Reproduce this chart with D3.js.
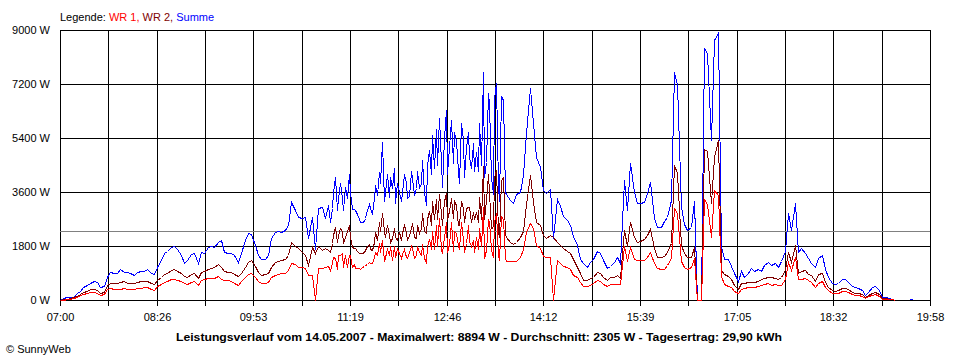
<!DOCTYPE html>
<html><head><meta charset="utf-8">
<script src="https://cdn.jsdelivr.net/npm/d3@7"></script>
<style>
html,body{margin:0;padding:0;background:#fff;}
svg{display:block;}
text{font-family:"Liberation Sans",Arial,sans-serif;}
</style></head><body>
<svg id="chart" width="960" height="360"></svg>
<script>
// ---- data ----
const stepMinutes = 3;            // one sample every 3 minutes, starting 07:00
const totalMinutes = 778;         // 07:00 .. 19:58
const tickLabels = ["07:00","08:26","09:53","11:19","12:46","14:12","15:39","17:05","18:32","19:58"];
const yTicks = [0,1800,3600,5400,7200,9000];
const average = 2305;
const titleText = "Leistungsverlauf vom 14.05.2007 - Maximalwert: 8894 W - Durchschnitt: 2305 W - Tagesertrag: 29,90 kWh";
const legendLabels = ["WR 1","WR 2","Summe"];
const seriesColors = ["#ff0000","#800000","#0000ff"];

const summe = [
0,55,90,90,90,220,310,420,500,580,
645,600,420,470,780,945,910,890,1020,945,
930,890,820,935,955,980,1045,890,870,1110,
1330,1555,1645,1755,1800,1690,1500,1245,1330,1530,
1555,1220,1610,1580,1780,1800,1780,1945,2000,1610,
1580,1555,1500,1280,1555,2000,2220,2200,1835,1500,
1365,1365,1500,2055,2280,2310,2280,2330,2500,3280,
3000,2780,2720,2755,2055,2780,1700,3055,3110,2720,
3165,3055,4110,3390,3390,3780,4200,3030,3000,2690,
2610,2720,3200,2865,3830,4280,5280,3610,3440,3720,
3220,3610,3610,3945,3465,4055,3720,3720,4665,3165,
5000,5500,5690,6055,3780,6330,5110,4555,5330,3890,
5330,5110,4780,5220,4945,5900,7600,4600,6550,3550,
7250,3300,6650,3550,3330,3220,3530,3610,4165,5555,
7055,5890,4780,4445,3665,3555,3690,2060,3355,3135,
2800,2665,2500,2135,1835,1355,1220,1110,1280,1355,
1645,1580,1335,1055,1135,1280,1445,1220,4000,3000,
4555,3610,3220,3245,3280,3555,3945,2720,2445,2420,
2645,2780,3330,7610,7200,3100,2530,2330,2445,3300,
0,0,8400,8250,5330,8650,8894,1800,1355,1355,
1135,890,645,980,780,910,1055,955,1020,955,
1165,1265,1180,1245,1110,1300,1650,2890,2330,3220,
1610,1720,1580,1400,1220,1090,1390,1500,1020,755,
555,535,580,690,710,610,480,420,390,335,
165,280,420,465,335,110,90,80,45,0,
null,null,null,35,35];

const wr2 = [
0,20,45,55,90,145,200,265,310,355,
380,335,245,280,500,580,565,580,610,645,
580,555,555,600,620,645,645,555,535,665,
780,855,910,1000,1045,980,890,800,780,870,
890,720,945,980,1045,1055,1090,1200,1090,980,
945,920,865,800,910,1090,1280,1335,1135,945,
845,865,910,1090,1265,1310,1335,1380,1500,1950,
1800,1720,1610,1500,1165,1780,1555,1800,1665,1720,
1665,1910,2420,2165,2310,2110,2500,1780,1720,1580,
1580,1665,1865,1665,2280,2610,2890,2110,2165,2055,
2110,2280,2220,2280,2165,2555,2055,2245,2890,2220,
2980,3310,3355,3530,2500,3580,2980,2720,3165,2500,
3055,3055,3110,2945,2945,3445,4470,3330,3555,2450,
4330,2110,4110,2100,1945,1865,1945,2090,2310,3200,
4165,3280,2610,2500,2180,2065,2165,2110,1945,1845,
1720,1620,1555,1355,1110,890,665,665,720,780,
945,910,780,665,755,780,835,720,2330,1800,
2610,2110,1945,1980,2045,2165,2365,1720,1445,1420,
1465,1610,1890,4500,4250,1850,1555,1420,1420,1780,
0,0,5020,4980,3220,4780,5330,1000,855,800,
690,500,355,555,580,610,610,590,635,710,
720,765,755,720,690,780,1000,1610,1280,1835,
910,980,1000,855,820,650,865,890,600,440,
320,310,335,400,410,355,280,245,230,195,
95,160,245,270,195,65,55,45,25,0,
null,null,null,null,null];

const wr1 = [
0,10,20,35,55,110,155,200,220,265,
280,245,165,200,355,390,355,380,380,410,
380,380,380,400,410,420,420,355,335,465,
535,600,645,690,710,665,620,555,535,610,
620,500,665,690,735,745,745,800,710,665,
655,635,580,510,645,780,865,890,780,645,
555,580,610,780,835,865,890,910,1000,1250,
1200,1110,1110,1055,835,835,0,1055,1065,1110,
1135,1220,1390,1500,1555,1500,1500,1110,1055,1055,
1090,1165,1280,1220,1610,1890,2000,1445,1500,1335,
1445,1555,1535,1445,1610,1720,1500,1610,1865,1280,
2020,2310,2500,2720,1555,2610,1865,1645,2220,1720,
2000,1890,1980,2000,2110,2390,3100,1665,2600,1450,
2900,1330,2700,1300,1310,1310,1290,1420,1690,2280,
2580,2400,1835,1720,1480,1445,1445,0,1335,1245,
1145,1100,1045,845,755,600,480,465,510,580,
665,645,535,465,520,545,535,535,1800,1300,
1780,1355,1335,1320,1335,1420,1600,1220,1065,1020,
1045,1155,1390,3050,2900,1300,1090,1035,1090,1400,
0,0,3355,3200,2110,3665,3500,800,535,480,
420,310,245,380,400,420,420,445,465,500,
535,555,510,535,500,510,700,1280,1000,1420,
700,690,735,665,600,440,555,645,420,320,
235,225,245,290,300,255,200,175,160,140,
70,120,175,195,140,45,35,35,20,0,
null,null,null,null,null];

// extra in-between readings (half a step later) for the fluctuating midday period
const halfStart = 80;
const summeHalf = [
2600,3600,3000,3900,3000,3400,3600,3020,2860,2600,
2620,3000,3050,3400,3500,3900,3300,4200,4100,4400,
3900,3300,4200,3400,4300,3500,4300,3900,3600,4500,
4200,4400,4500,4600,5400,4200,6000,5600,4300,5900,
4100,5600,4400,4300,4300,4500,4100,6900,4100,6700,
3800,6800,3600];
const wr2Half = [
1600,2150,1950,2400,1900,2300,2100,1750,1650,1560,
1600,1800,1700,1950,2000,2300,2300,2500,1950,2400,
2000,2000,2500,2000,2400,2100,2500,2400,2300,2700,
2500,2700,2700,2900,3300,2700,3400,3300,2500,3300,
2600,3100,2600,2700,2600,2700,2700,4200,2400,4100,
2300,4000,2200];
const wr1Half = [
1000,1450,1050,1500,1100,1100,1500,1200,1060,1040,
1120,1200,1250,1450,1500,1600,1300,1700,1800,1800,
1700,1400,1700,1400,1800,1400,1800,1500,1400,1800,
1700,1700,1800,1700,2100,1600,2600,2300,1800,2600,
1600,2500,1800,1600,1700,1800,1400,2700,1700,2600,
1500,2800,1400];

// ---- layout ----
const svg = d3.select("#chart");
const plotL = 60, plotR = 930, plotT = 30, plotB = 300;
const x = d3.scaleLinear().domain([0,totalMinutes]).rangeRound([plotL,plotR]);
const y = d3.scaleLinear().domain([0,9000]).rangeRound([plotB,plotT]);
const font = '"Liberation Sans",Arial,sans-serif';

// vertical grid + time labels
const gridValues = d3.range(19).map(k => k*totalMinutes/18);
const xAxis = d3.axisBottom(x).tickValues(gridValues)
  .tickSizeInner(-(plotB-plotT+6)).tickSizeOuter(0).tickPadding(7)
  .tickFormat((d,i) => i%2===0 ? tickLabels[i/2] : "");
const gx = svg.append("g").attr("transform",`translate(0,${plotB+6})`).call(xAxis);
gx.select(".domain").remove();
gx.selectAll("line").attr("stroke","#000");
gx.selectAll("text").attr("font-size",11).attr("font-family",font).attr("fill","#000");

// horizontal grid + value labels
const yAxis = d3.axisLeft(y).tickValues(yTicks)
  .tickSizeInner(-(plotR-plotL)).tickSizeOuter(0).tickPadding(10)
  .tickFormat(d => d + " W");
const gy = svg.append("g").attr("transform",`translate(${plotL},0)`).call(yAxis);
gy.select(".domain").remove();
gy.selectAll("line").attr("stroke","#000");
gy.selectAll("text").attr("font-size",11).attr("font-family",font).attr("fill","#000");

// average line
svg.append("line")
  .attr("x1",plotL).attr("x2",plotR)
  .attr("y1",y(average)+0.5).attr("y2",y(average)+0.5)
  .attr("stroke","#808080").attr("stroke-width",1);

// series
function toPts(full, half) {
  const a = full.map((v,i) => ({t:i*stepMinutes, v}));
  half.forEach((v,k) => a.push({t:(halfStart+k)*stepMinutes + stepMinutes/2, v}));
  return a.sort((p,q) => p.t - q.t);
}
const line = d3.line().defined(d => d.v !== null)
  .x(d => x(d.t)+0.5).y(d => y(d.v)+0.5);
[[summe,summeHalf,seriesColors[2]],[wr2,wr2Half,seriesColors[1]],[wr1,wr1Half,seriesColors[0]]]
  .forEach(([arr,half,col]) => {
    svg.append("path").datum(toPts(arr,half))
      .attr("d",line).attr("fill","none")
      .attr("stroke",col).attr("stroke-width",1)
      .attr("shape-rendering","crispEdges");
  });

// legend
const leg = svg.append("text").attr("x",60).attr("y",20.5)
  .attr("font-size",11).attr("font-family",font);
leg.append("tspan").attr("fill","#000").text("Legende: ");
legendLabels.forEach((l,i) => {
  leg.append("tspan").attr("fill",seriesColors[i])
    .text(l + (i < legendLabels.length-1 ? ", " : ""));
});

// title
svg.append("text").attr("x",479).attr("y",340.5)
  .attr("text-anchor","middle").attr("font-size",11).attr("font-weight","bold")
  .attr("font-family",font).attr("textLength",606).attr("lengthAdjust","spacingAndGlyphs")
  .text(titleText);

// credit
svg.append("text").attr("x",6).attr("y",352.5)
  .attr("font-size",11).attr("font-family",font).text("\u00A9 SunnyWeb");
</script>
</body></html>
